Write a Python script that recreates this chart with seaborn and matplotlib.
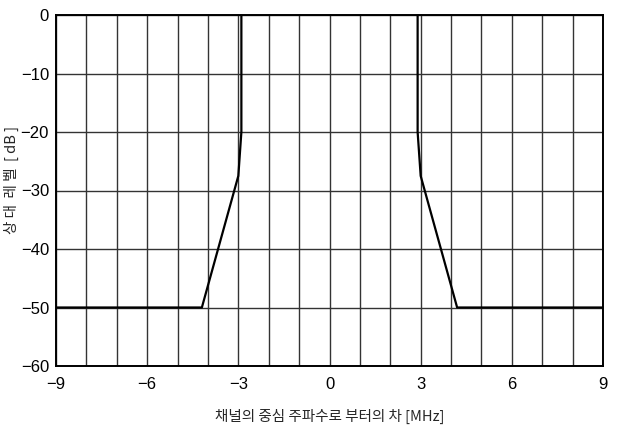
import matplotlib
matplotlib.use("Agg")
import matplotlib.pyplot as plt
import seaborn as sns
import pandas as pd
import numpy as np

# Spectrum mask (left and right halves)
left_x = [-9.0, -4.2, -3.0, -2.9, -2.9]
left_y = [-50, -50, -27.5, -20, 0]
right_x = [2.9, 2.9, 3.0, 4.2, 9.0]
right_y = [0, -20, -27.5, -50, -50]

x_ticks = [-9, -6, -3, 0, 3, 6, 9]
y_ticks = [0, -10, -20, -30, -40, -50, -60]

sns.set_theme(style="white")
plt.rcParams['font.family'] = ['Liberation Sans', 'Noto Sans CJK KR']

fig = plt.figure(figsize=(6.17, 4.47), dpi=100)
ax = fig.add_axes([56/617, 81/447, 547/617, 351/447])

df_l = pd.DataFrame({"x": left_x, "y": left_y, "seg": 0})
df_r = pd.DataFrame({"x": right_x, "y": right_y, "seg": 1})
df = pd.concat([df_l, df_r], ignore_index=True)

for s, d in df.groupby("seg"):
    sns.lineplot(data=d, x="x", y="y", sort=False, color="black", lw=1.6,
                 ax=ax, estimator=None, zorder=3)

ax.set_xlim(-9, 9)
ax.set_ylim(-60, 0)
ax.set_xticks(np.arange(-9, 10, 1), minor=True)
ax.set_xticks(x_ticks)
ax.set_yticks(y_ticks)
ax.set_xticklabels([str(t).replace('-', '\u2212') for t in x_ticks])
ax.set_yticklabels([str(t).replace('-', '\u2212') for t in y_ticks])
ax.grid(True, which="both", axis="x", color="#333333", lw=1.0)
ax.grid(True, which="major", axis="y", color="#333333", lw=1.0)
ax.tick_params(which="both", length=0, labelsize=12, colors="black")
ax.tick_params(axis="x", pad=8)
ax.tick_params(axis="y", pad=5)
for sp in ax.spines.values():
    sp.set_color("black")
    sp.set_linewidth(1.4)

ax.set_xlabel("채널의 중심 주파수로 부터의 차 [MHz]", fontsize=10.5,
              family=['Noto Sans CJK KR'], labelpad=12)
ax.set_ylabel("상 대  레 벨  [ dB ]", fontsize=10.5, family=['Noto Sans CJK KR'])
ax.yaxis.set_label_coords(-0.067, 0.53)

fig.savefig("out.png", dpi=100)
